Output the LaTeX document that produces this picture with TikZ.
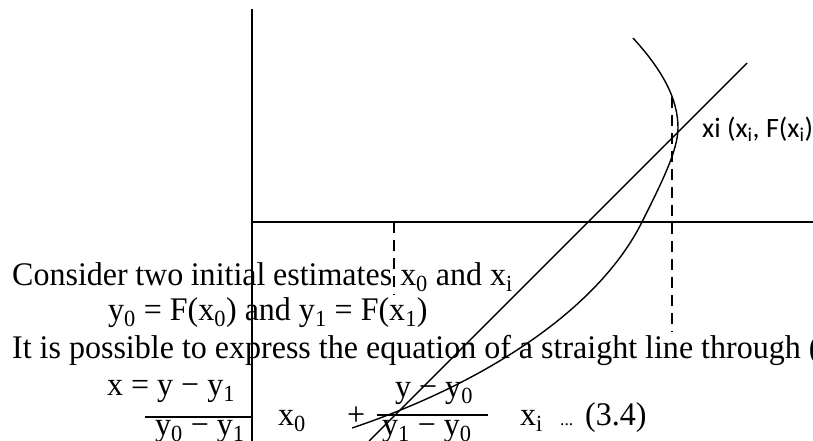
\documentclass[tikz,border=0pt]{standalone}
\usepackage{fontspec}
\setmainfont[FakeStretch=0.97]{Liberation Serif}
\newfontfamily\labelfont{Carlito}
\newcommand{\subs}[1]{\textsubscript{#1}}
\newcommand{\mns}{\char"2212}
\begin{document}
\begin{tikzpicture}[x=1pt,y=-1pt,
  axis/.style={line width=1.5pt},
  curveline/.style={line width=1.4pt},
  dashline/.style={line width=1.5pt, dash pattern=on 11pt off 7pt},
  barline/.style={line width=1.3pt},
  txt/.style={anchor=base west, inner sep=0pt, font=\fontsize{33}{36}\selectfont},
  lbl/.style={anchor=base west, inner sep=0pt, font=\labelfont\fontsize{28}{30}\selectfont}]
\useasboundingbox (0,0) rectangle (813,441);
% axes
\coordinate (vtop) at (252,9);
\coordinate (vbot) at (252,441);
\coordinate (horigin) at (252,222);
\coordinate (hend) at (813,222);
\draw[axis] (vtop) -- (vbot);
\draw[axis] (horigin) -- (hend);
% dashed
\coordinate (d1a) at (394,222);
\coordinate (d1b) at (394,295);
\coordinate (d2a) at (672,97);
\coordinate (d2b) at (672,332);
\draw[dashline] (d1a) -- (d1b);
\draw[dashline] (d2a) -- (d2b);
% secant line
\coordinate (sTop) at (747,63);
\coordinate (sBot) at (369,441);
\draw[curveline] (sBot) -- (sTop);
% curve
\coordinate (cA) at (352,428);
\coordinate (cB) at (642,222);
\coordinate (cC) at (678,128);
\coordinate (cD) at (633,38);
\draw[curveline] (cA) .. controls (480,385) and (597,312) .. (cB)
  .. controls (662,182) and (678,150) .. (cC)
  .. controls (678,100) and (664,72) .. (cD);
% label
\node[lbl] (xi) at (702,137) {xi (x\subs{i}, F(x\subs{i})};
% text
\node[txt] (t1) at (12,285) {\makebox[380pt][s]{Consider two initial estimates}\hspace{8pt}x\subs{0} and x\subs{i}};
\node[txt] (t2) at (108,320) {y\subs{0} = F(x\subs{0}) and y\subs{1} = F(x\subs{1})};
\node[txt] (t3) at (12,358) {It is possible to express the equation of a straight line through (};
% equation
\node[txt] (e1) at (107,395) {x = y \mns{} y\subs{1}};
\coordinate (b1a) at (145,417);
\coordinate (b1b) at (252,417);
\draw[barline] (b1a) -- (b1b);
\node[txt] (e2) at (155,435) {y\subs{0} \mns{} y\subs{1}};
\node[txt] (e3) at (278,425) {x\subs{0}};
\node[txt] (e4) at (347,425) {+};
\node[txt] (e5) at (395,397) {y \mns{} y\subs{0}};
\coordinate (b2a) at (377,415);
\coordinate (b2b) at (488,415);
\draw[barline] (b2a) -- (b2b);
\node[txt] (e6) at (382,435) {y\subs{1} \mns{} y\subs{0}};
\node[txt] (e7) at (520,425) {x\subs{i}};
\node[anchor=base west, inner sep=0pt, font=\fontsize{18}{20}\selectfont] (e8) at (560,425) {...};
\node[txt] (e9) at (585,425) {(3.4)};
\end{tikzpicture}
\end{document}
